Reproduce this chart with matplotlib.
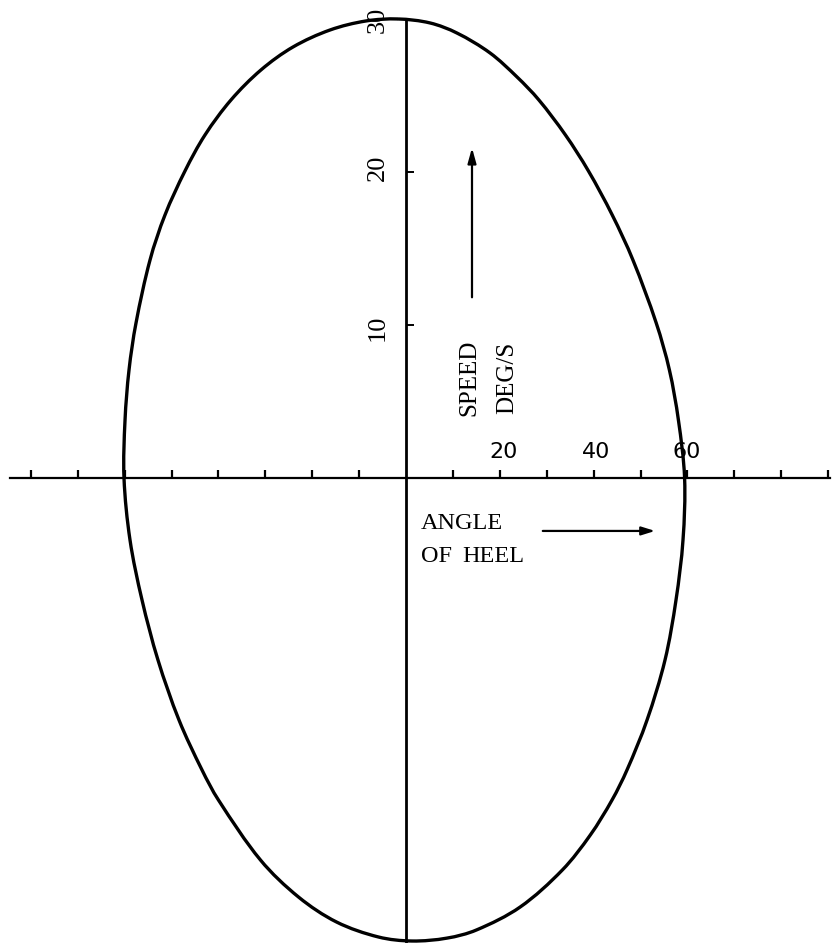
import matplotlib
matplotlib.use("Agg")
import matplotlib.pyplot as plt
import numpy as np
from matplotlib.path import Path
from matplotlib.patches import PathPatch

# Phase-plane trajectory: angle of heel (deg) against rolling speed (deg/s),
# listed clockwise from the top of the loop
heel_angle = [-1.71, 5.12, 10.87, 17.91, 23.67, 28.32, 33.99, 38.89, 43.97, 48.38,
              53.35, 56.16, 58.08, 59.4, 59.06, 57.57, 55.22, 51.39, 47.12, 43.92,
              39.30, 33.33, 24.33, 15.01, 8.74, 1.28, -5.84, -14.80, -22.90, -31.02,
              -39.98, -43.50, -48.40, -52.88, -56.29, -58.85, -60.13, -59.91, -59.06, -57.57,
              -54.58, -51.39, -47.12, -42.86, -37.31, -30.92, -24.09, -16.20, -8.53]
roll_speed = [30.0, 29.74, 29.08, 27.78, 26.21, 24.71, 22.42, 20.07, 17.19, 14.25,
              10.13, 7.06, 3.79, 0.0, -4.05, -7.97, -11.90, -15.82, -19.08, -21.05,
              -23.33, -25.62, -28.04, -29.54, -30.07, -30.26, -30.0, -29.02, -27.39, -24.97,
              -21.05, -19.08, -15.82, -11.90, -7.97, -4.05, 0.0, 3.79, 7.06, 10.13,
              14.25, 17.19, 20.07, 22.42, 24.71, 26.67, 28.17, 29.28, 29.87]

x_ticks = [-80, -70, -60, -50, -40, -30, -20, -10, 10, 20, 30, 40, 50, 60, 70, 80, 90]
x_tick_labels = ["20", "40", "60"]
x_label_pos = [20.9, 40.5, 59.9]
y_ticks = [10, 20]
y_tick_labels = ["10", "20", "30"]
y_label_pos = [9.8, 20.26, 29.93]

XLIM = (-86.57, 90.83)
YLIM = (-30.39, 31.24)
FIG_W, FIG_H = 8.32, 9.43


def closed_smooth_path(xs, ys, sx, sy):
    """Closed cubic Bezier path through every point (chord-length Catmull-Rom).

    sx, sy convert data units to drawn length so the curve is shaped on screen.
    """
    p = np.column_stack([np.asarray(xs) * sx, np.asarray(ys) * sy])
    n = len(p)
    nxt = np.roll(p, -1, axis=0)
    seg = np.hypot(*(nxt - p).T)            # length of segment i -> i+1
    prev_seg = np.roll(seg, 1)
    # tangent at each point from its neighbours, weighted by segment lengths
    tang = (np.roll(p, -1, axis=0) - np.roll(p, 1, axis=0)) / (seg + prev_seg)[:, None]
    verts = [p[0]]
    codes = [Path.MOVETO]
    for i in range(n):
        j = (i + 1) % n
        c1 = p[i] + tang[i] * seg[i] / 3
        c2 = p[j] - tang[j] * seg[i] / 3
        verts += [c1, c2, p[j]]
        codes += [Path.CURVE4] * 3
    verts = np.array(verts) / np.array([sx, sy])
    return Path(verts, codes)


fig = plt.figure(figsize=(FIG_W, FIG_H), dpi=100)
ax = fig.add_axes([0, 0, 1, 1])
ax.set_xlim(*XLIM)
ax.set_ylim(*YLIM)

# axes crossing at the origin
for side in ("top", "right"):
    ax.spines[side].set_visible(False)
ax.spines["bottom"].set_position(("data", 0))
ax.spines["left"].set_position(("data", 0))
ax.spines["bottom"].set_bounds(-84.5, 90.5)
ax.spines["left"].set_bounds(-30.3, 30.0)
ax.spines["bottom"].set_linewidth(1.6)
ax.spines["left"].set_linewidth(2.0)

ax.set_xticks(x_ticks)
ax.set_yticks(y_ticks)
ax.tick_params(axis="x", direction="in", length=5.5, width=1.6, labelbottom=False)
ax.tick_params(axis="y", direction="in", length=5.5, width=1.4, labelleft=False)

sx = FIG_W / (XLIM[1] - XLIM[0])
sy = FIG_H / (YLIM[1] - YLIM[0])
ax.add_patch(PathPatch(closed_smooth_path(heel_angle, roll_speed, sx, sy),
                       facecolor="none", edgecolor="black", lw=2.4, joinstyle="round"))

serif = "Liberation Serif"
for lab, xp in zip(x_tick_labels, x_label_pos):
    ax.text(xp, 1.7, lab, family="DejaVu Sans", fontsize=16, ha="center", va="center")
for lab, yp in zip(y_tick_labels, y_label_pos):
    ax.text(-5.97, yp, lab, family=serif, fontsize=19, rotation=90,
            ha="center", va="center")

ax.text(3.2, -3.0, "ANGLE", family=serif, fontsize=17.5, ha="left", va="center")
ax.text(3.2, -5.1, "OF", family=serif, fontsize=17.5, ha="left", va="center")
ax.text(11.9, -5.1, "HEEL", family=serif, fontsize=17.5, ha="left", va="center")
ax.annotate("", xy=(53.7, -3.46), xytext=(28.57, -3.46),
            arrowprops=dict(arrowstyle="-|>,head_length=0.8,head_width=0.25",
                            color="black", lw=1.6))

ax.text(13.43, 6.54, "SPEED", family=serif, fontsize=18, rotation=90,
        ha="center", va="center")
ax.text(21.5, 6.54, "DEG/S", family=serif, fontsize=18, rotation=90,
        ha="center", va="center")
ax.annotate("", xy=(14.07, 21.76), xytext=(14.07, 11.63),
            arrowprops=dict(arrowstyle="-|>,head_length=0.9,head_width=0.25",
                            color="black", lw=1.6))

fig.savefig("out.png", dpi=100, facecolor="white")
